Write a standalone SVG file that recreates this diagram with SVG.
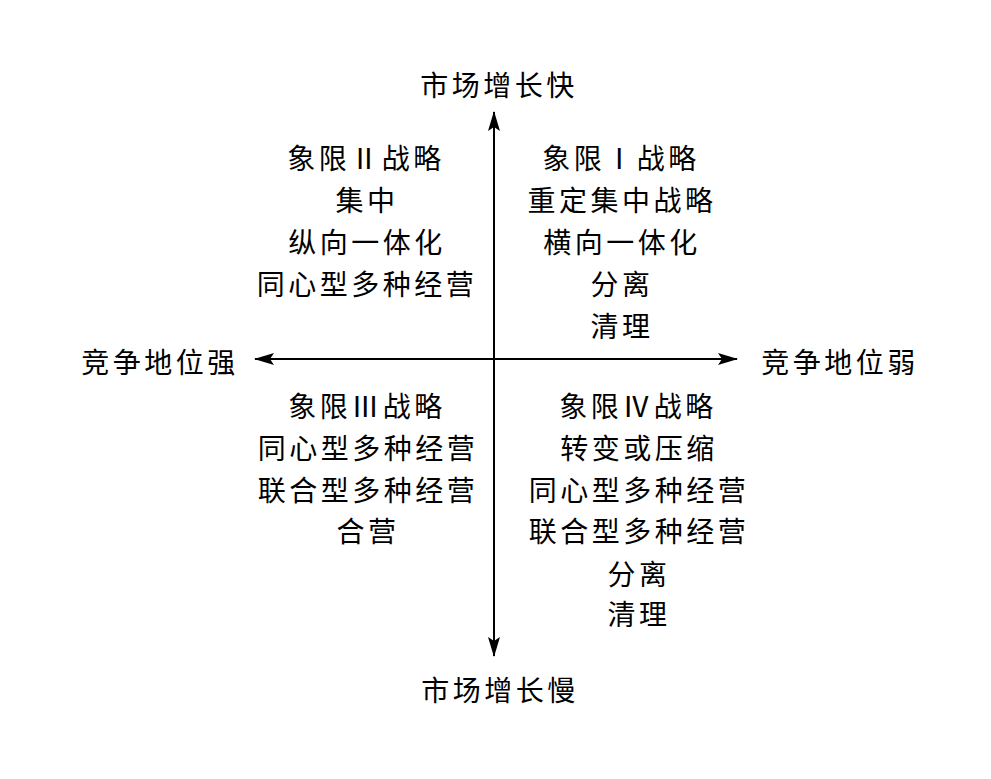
<svg xmlns="http://www.w3.org/2000/svg" width="991" height="779" viewBox="0 0 991 779">
<style>
text{font-family:"Noto Sans CJK SC","Noto Sans CJK JP",sans-serif;font-size:28px;fill:#000;text-anchor:middle;letter-spacing:3.5px}
.ax{stroke:#000;stroke-width:2;fill:none}
</style>
<defs>
<marker id="ah" viewBox="0 0 20 12" refX="19" refY="6" markerWidth="20" markerHeight="12" markerUnits="userSpaceOnUse" orient="auto">
<path d="M0,0 L20,6 L0,12 L4,6 Z" fill="#000"/>
</marker>
</defs>
<rect width="991" height="779" fill="#fff"/>
<g id="connectors">
<line class="ax" x1="494" y1="359" x2="494" y2="112" marker-end="url(#ah)"/>
<line class="ax" x1="494" y1="359" x2="494" y2="656" marker-end="url(#ah)"/>
<line class="ax" x1="494" y1="359" x2="255" y2="359" marker-end="url(#ah)"/>
<line class="ax" x1="494" y1="359" x2="737" y2="359" marker-end="url(#ah)"/>
</g>
<g id="axis-top"><text x="499" y="96">市场增长快</text></g>
<g id="axis-bottom"><text x="500" y="701">市场增长慢</text></g>
<g id="axis-left"><text x="160" y="373">竞争地位强</text></g>
<g id="axis-right"><text x="840" y="373">竞争地位弱</text></g>
<g id="q2">
<text x="366" y="169" letter-spacing="5">象限Ⅱ战略</text>
<text x="367" y="211">集中</text>
<text x="367" y="253">纵向一体化</text>
<text x="367" y="295">同心型多种经营</text>
</g>
<g id="q1">
<text x="621" y="169" letter-spacing="5">象限Ⅰ战略</text>
<text x="622" y="211">重定集中战略</text>
<text x="622" y="253">横向一体化</text>
<text x="622" y="295">分离</text>
<text x="622" y="337">清理</text>
</g>
<g id="q3">
<text x="367" y="417">象限Ⅲ战略</text>
<text x="368" y="459">同心型多种经营</text>
<text x="368" y="501">联合型多种经营</text>
<text x="368" y="542">合营</text>
</g>
<g id="q4">
<text x="638" y="417">象限Ⅳ战略</text>
<text x="639" y="459">转变或压缩</text>
<text x="639" y="501">同心型多种经营</text>
<text x="639" y="542">联合型多种经营</text>
<text x="639" y="585">分离</text>
<text x="639" y="625">清理</text>
</g>
</svg>
